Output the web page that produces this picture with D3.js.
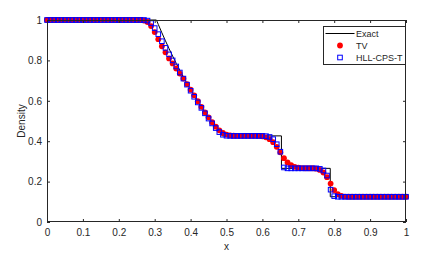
<!DOCTYPE html>
<html>
<head>
<meta charset="utf-8">
<script src="https://cdn.jsdelivr.net/npm/d3@7"></script>
<style>
  html, body { margin: 0; padding: 0; background: #fff; }
  svg { display: block; }
  text { font-family: "Liberation Sans", Arial, sans-serif; }
</style>
</head>
<body>
<svg id="chart" width="444" height="253"></svg>
<script>
// ---- data ----
const xTicks = [0, 0.1, 0.2, 0.3, 0.4, 0.5, 0.6, 0.7, 0.8, 0.9, 1];
const yTicks = [0, 0.2, 0.4, 0.6, 0.8, 1];
const xTickLabels = ["0", "0.1", "0.2", "0.3", "0.4", "0.5", "0.6", "0.7", "0.8", "0.9", "1"];
const yTickLabels = ["0", "0.2", "0.4", "0.6", "0.8", "1"];

const exactX = [0, 0.3048, 0.31, 0.32, 0.33, 0.34, 0.35, 0.36, 0.37, 0.38, 0.39, 0.40, 0.41, 0.42, 0.43, 0.44, 0.45, 0.46, 0.47, 0.48, 0.4884, 0.653, 0.653, 0.789, 0.789, 1];
const exactY = [1, 1, 0.9779, 0.9367, 0.8968, 0.8584, 0.8213, 0.7855, 0.7509, 0.7175, 0.6854, 0.6544, 0.6246, 0.5958, 0.5682, 0.5415, 0.5159, 0.4912, 0.4675, 0.4448, 0.4263, 0.4263, 0.2656, 0.2656, 0.125, 0.125];

const cellX = [0, 0.01, 0.02, 0.03, 0.04, 0.05, 0.06, 0.07, 0.08, 0.09,
  0.10, 0.11, 0.12, 0.13, 0.14, 0.15, 0.16, 0.17, 0.18, 0.19,
  0.20, 0.21, 0.22, 0.23, 0.24, 0.25, 0.26, 0.27, 0.28, 0.29,
  0.30, 0.31, 0.32, 0.33, 0.34, 0.35, 0.36, 0.37, 0.38, 0.39,
  0.40, 0.41, 0.42, 0.43, 0.44, 0.45, 0.46, 0.47, 0.48, 0.49,
  0.50, 0.51, 0.52, 0.53, 0.54, 0.55, 0.56, 0.57, 0.58, 0.59,
  0.60, 0.61, 0.62, 0.63, 0.64, 0.65, 0.66, 0.67, 0.68, 0.69,
  0.70, 0.71, 0.72, 0.73, 0.74, 0.75, 0.76, 0.77, 0.78, 0.79,
  0.80, 0.81, 0.82, 0.83, 0.84, 0.85, 0.86, 0.87, 0.88, 0.89,
  0.90, 0.91, 0.92, 0.93, 0.94, 0.95, 0.96, 0.97, 0.98, 0.99, 1.00];

const tvY = [1, 1, 1, 1, 1, 1, 1, 1, 1, 1,
  1, 1, 1, 1, 1, 1, 1, 1, 1, 1,
  1, 1, 1, 1, 1, 1, 1, 0.997, 0.99, 0.97,
  0.94, 0.905, 0.87, 0.84, 0.81, 0.785, 0.76, 0.735, 0.71, 0.683,
  0.655, 0.627, 0.598, 0.57, 0.543, 0.518, 0.494, 0.472, 0.454, 0.441,
  0.433, 0.429, 0.427, 0.4265, 0.4265, 0.4265, 0.4265, 0.4265, 0.4265, 0.426,
  0.424, 0.419, 0.41, 0.395, 0.372, 0.345, 0.316, 0.295, 0.281, 0.273,
  0.269, 0.267, 0.266, 0.266, 0.266, 0.264, 0.258, 0.245, 0.222, 0.19,
  0.158, 0.138, 0.129, 0.126, 0.125, 0.125, 0.125, 0.125, 0.125, 0.125,
  0.125, 0.125, 0.125, 0.125, 0.125, 0.125, 0.125, 0.125, 0.125, 0.125, 0.125];

const hllY = [1, 1, 1, 1, 1, 1, 1, 1, 1, 1,
  1, 1, 1, 1, 1, 1, 1, 1, 1, 1,
  1, 1, 1, 1, 1, 1, 1, 1, 0.997, 0.985,
  0.96, 0.93, 0.895, 0.862, 0.83, 0.80, 0.77, 0.74, 0.71, 0.68,
  0.65, 0.62, 0.592, 0.565, 0.538, 0.512, 0.488, 0.465, 0.445, 0.432,
  0.427, 0.4263, 0.4263, 0.4263, 0.4263, 0.4263, 0.4263, 0.4263, 0.4263, 0.4263,
  0.4263, 0.425, 0.421, 0.41, 0.385, 0.348, 0.27, 0.2656, 0.2656, 0.2656,
  0.2656, 0.2656, 0.2656, 0.2656, 0.2656, 0.2656, 0.263, 0.255, 0.23, 0.16,
  0.128, 0.125, 0.125, 0.125, 0.125, 0.125, 0.125, 0.125, 0.125, 0.125,
  0.125, 0.125, 0.125, 0.125, 0.125, 0.125, 0.125, 0.125, 0.125, 0.125, 0.125];

const legendLabels = ["Exact", "TV", "HLL-CPS-T"];

// ---- chart ----
const svg = d3.select("#chart");
const pL = 47, pR = 406, pT = 20, pB = 222;
const axisColor = "#262626";

const x = d3.scaleLinear().domain([0, 1]).range([pL, pR]);
const y = d3.scaleLinear().domain([0, 1]).range([pB, pT]);

svg.append("rect").attr("x", 0).attr("y", 0).attr("width", 444).attr("height", 253).attr("fill", "#fff");

// exact line
const exactPts = exactX.map((d, i) => [d, exactY[i]]);
svg.append("path")
  .datum(exactPts)
  .attr("fill", "none")
  .attr("stroke", "#000")
  .attr("stroke-width", 1)
  .attr("d", d3.line().x(d => x(d[0])).y(d => y(d[1])));

// TV circles
const cr = 2.9;
svg.append("g").selectAll("circle")
  .data(cellX.map((d, i) => [d, tvY[i]]))
  .join("circle")
  .attr("cx", d => x(d[0]))
  .attr("cy", d => y(d[1]))
  .attr("r", cr)
  .attr("fill", "#ff0000");

// HLL squares
const sq = 4.6;
svg.append("g").selectAll("rect")
  .data(cellX.map((d, i) => [d, hllY[i]]))
  .join("rect")
  .attr("x", d => x(d[0]) - sq / 2)
  .attr("y", d => y(d[1]) - sq / 2)
  .attr("width", sq)
  .attr("height", sq)
  .attr("fill", "none")
  .attr("stroke", "#0000ff")
  .attr("stroke-width", 1);

// axes
function styleAxis(g) {
  g.select(".domain").remove();
  g.selectAll("line").attr("stroke", axisColor);
  g.selectAll("text").attr("fill", axisColor).attr("font-size", 10)
    .attr("font-family", '"Liberation Sans", Arial, sans-serif');
}

svg.append("g").attr("transform", `translate(0,${pB})`)
  .call(d3.axisBottom(x).tickValues(xTicks).tickSize(-3).tickPadding(7)
    .tickFormat((d, i) => xTickLabels[i]))
  .call(styleAxis);

svg.append("g").attr("transform", `translate(0,${pT})`)
  .call(d3.axisTop(x).tickValues(xTicks).tickSize(-3).tickFormat(""))
  .call(styleAxis);

svg.append("g").attr("transform", `translate(${pL},0)`)
  .call(d3.axisLeft(y).tickValues(yTicks).tickSize(-3).tickPadding(5)
    .tickFormat((d, i) => yTickLabels[i]))
  .call(styleAxis);

svg.append("g").attr("transform", `translate(${pR},0)`)
  .call(d3.axisRight(y).tickValues(yTicks).tickSize(-3).tickFormat(""))
  .call(styleAxis);

// box
svg.append("rect")
  .attr("x", pL + 0.5).attr("y", pT + 0.5)
  .attr("width", pR - pL - 1).attr("height", pB - pT - 1)
  .attr("fill", "none").attr("stroke", axisColor).attr("stroke-width", 1);

// axis labels
svg.append("text")
  .attr("x", (pL + pR) / 2).attr("y", 250)
  .attr("text-anchor", "middle")
  .attr("font-size", 10).attr("fill", axisColor)
  .text("x");

svg.append("text")
  .attr("transform", `translate(25,${(pT + pB) / 2}) rotate(-90)`)
  .attr("text-anchor", "middle")
  .attr("font-size", 10).attr("fill", axisColor)
  .text("Density");

// legend
const lg = svg.append("g");
lg.append("rect")
  .attr("x", 323.5).attr("y", 26.5).attr("width", 82).attr("height", 38)
  .attr("fill", "#fff").attr("stroke", axisColor).attr("stroke-width", 1);
const rowY = [33.5, 45.5, 57.5];
lg.append("line").attr("x1", 325.5).attr("x2", 354.5).attr("y1", rowY[0]).attr("y2", rowY[0])
  .attr("stroke", "#000").attr("stroke-width", 1);
lg.append("circle").attr("cx", 340).attr("cy", rowY[1]).attr("r", cr).attr("fill", "#ff0000");
lg.append("rect").attr("x", 340 - sq / 2).attr("y", rowY[2] - sq / 2).attr("width", sq).attr("height", sq)
  .attr("fill", "none").attr("stroke", "#0000ff").attr("stroke-width", 1);
lg.selectAll("text.lbl").data(legendLabels).join("text")
  .attr("class", "lbl")
  .attr("x", 356).attr("y", (d, i) => rowY[i])
  .attr("dy", "0.35em")
  .attr("font-size", 9).attr("fill", axisColor)
  .text(d => d);
</script>
</body>
</html>
